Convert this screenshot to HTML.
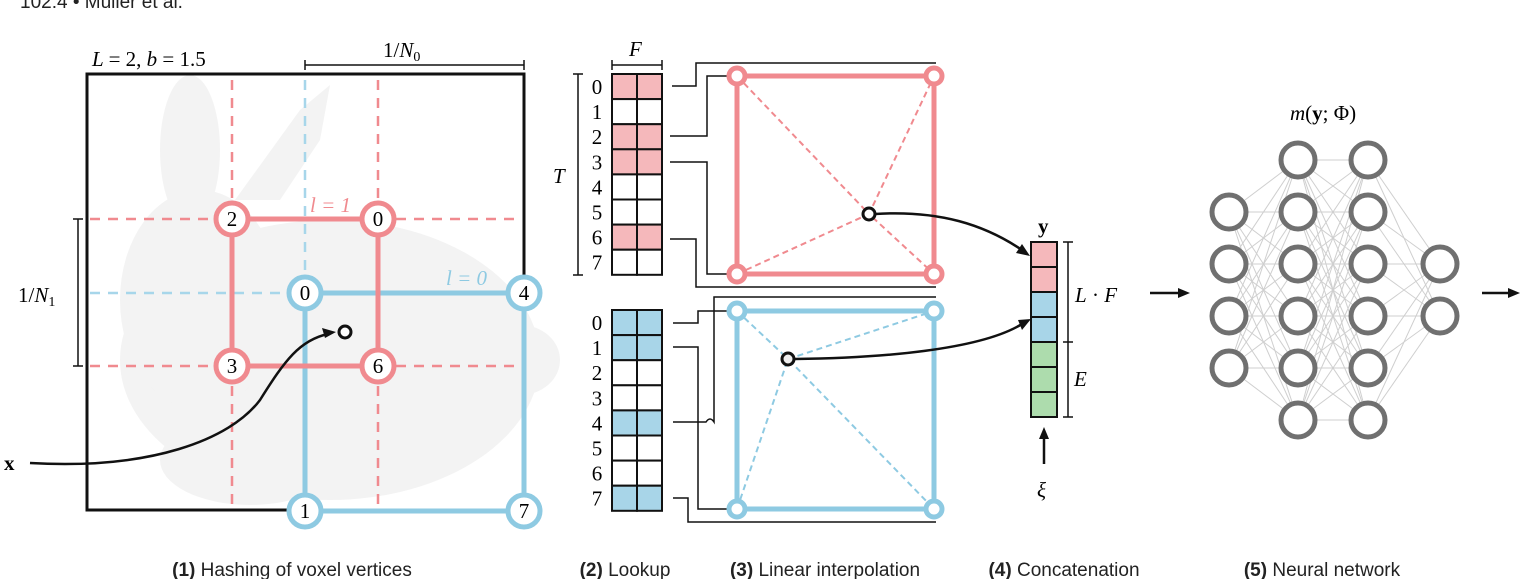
<!DOCTYPE html>
<html><head><meta charset="utf-8"><style>
body{margin:0;background:#fff;width:1524px;height:579px;overflow:hidden}
svg{display:block}
.m{font-family:"Liberation Serif",serif;font-size:21px}
.c{font-family:"Liberation Sans",sans-serif;font-size:19px;fill:#222}
</style></head><body>
<svg id="s" width="1524" height="579" viewBox="0 0 1524 579" xmlns="http://www.w3.org/2000/svg">
<text x="20" y="8" class="c" font-size="16" fill="#444">102:4  •  Müller et al.</text>
<!-- bunny -->
<g fill="#f3f3f3">
<ellipse cx="330" cy="360" rx="210" ry="140"/>
<ellipse cx="200" cy="300" rx="80" ry="110"/>
<ellipse cx="190" cy="150" rx="30" ry="75"/>
<path d="M235 200 L300 110 L330 85 L320 140 L280 200 Z"/>
<ellipse cx="520" cy="360" rx="40" ry="35"/>
<ellipse cx="250" cy="460" rx="90" ry="45"/>
</g>
<rect x="87" y="74" width="437" height="436" fill="none" stroke="#111" stroke-width="3"/>
<g stroke="#f08a8f" stroke-width="2.5" stroke-dasharray="10,8" fill="none">
<line x1="232" y1="80" x2="232" y2="505"/><line x1="378" y1="80" x2="378" y2="505"/>
<line x1="90" y1="219" x2="520" y2="219"/><line x1="90" y1="366" x2="520" y2="366"/>
</g>
<g stroke="#a7d6ea" stroke-width="2.5" stroke-dasharray="10,8" fill="none">
<line x1="305" y1="80" x2="305" y2="293"/><line x1="90" y1="293" x2="305" y2="293"/>
</g>
<rect x="305" y="293" width="219" height="218" fill="none" stroke="#8ecae2" stroke-width="5"/>
<rect x="232" y="219" width="146" height="147" fill="none" stroke="#f08a8f" stroke-width="5"/>
<g stroke-width="5" fill="#fff">
<circle cx="232" cy="219" r="16" stroke="#f08a8f"/><circle cx="378" cy="219" r="16" stroke="#f08a8f"/>
<circle cx="232" cy="366" r="16" stroke="#f08a8f"/><circle cx="378" cy="366" r="16" stroke="#f08a8f"/>
<circle cx="305" cy="293" r="16" stroke="#8ecae2"/><circle cx="524" cy="293" r="16" stroke="#8ecae2"/>
<circle cx="305" cy="511" r="16" stroke="#8ecae2"/><circle cx="524" cy="511" r="16" stroke="#8ecae2"/>
</g>
<g class="m" text-anchor="middle" font-size="19">
<text x="232" y="226">2</text><text x="378" y="226">0</text><text x="232" y="373">3</text><text x="378" y="373">6</text>
<text x="305" y="300">0</text><text x="524" y="300">4</text><text x="305" y="518">1</text><text x="524" y="518">7</text>
</g>
<text x="310" y="212" class="m" fill="#f08a8f" font-style="italic">l = 1</text>
<text x="446" y="285" class="m" fill="#8ecae2" font-style="italic">l = 0</text>
<circle cx="345" cy="332" r="6" fill="#fff" stroke="#111" stroke-width="3"/>
<path d="M30 463 C150 470 230 440 260 400 C285 360 300 340 328 334" fill="none" stroke="#111" stroke-width="2.5"/>
<path d="M336 332 L322 328 L325 338 Z" fill="#111"/>
<text x="4" y="470" class="m" font-weight="bold">x</text>
<text x="92" y="66" class="m" font-style="italic">L <tspan font-style="normal">= 2,</tspan>   b <tspan font-style="normal">= 1.5</tspan></text>
<g stroke="#111" stroke-width="1.5"><line x1="305" y1="65" x2="524" y2="65"/><line x1="305" y1="60" x2="305" y2="70"/><line x1="524" y1="60" x2="524" y2="70"/>
<line x1="78" y1="219" x2="78" y2="366"/><line x1="73" y1="219" x2="83" y2="219"/><line x1="73" y1="366" x2="83" y2="366"/></g>
<text x="383" y="57" class="m">1/<tspan font-style="italic">N</tspan><tspan font-size="14" dy="4">0</tspan></text>
<text x="18" y="302" class="m">1/<tspan font-style="italic">N</tspan><tspan font-size="14" dy="4">1</tspan></text>
<!-- lookup -->
<g id="tables"></g>
<g stroke="#111" stroke-width="1.5"><line x1="612" y1="65" x2="662" y2="65"/><line x1="612" y1="60" x2="612" y2="70"/><line x1="662" y1="60" x2="662" y2="70"/>
<line x1="578" y1="74" x2="578" y2="275"/><line x1="573" y1="74" x2="583" y2="74"/><line x1="573" y1="275" x2="583" y2="275"/></g>
<text x="629" y="56" class="m" font-style="italic">F</text>
<text x="553" y="183" class="m" font-style="italic">T</text>
<g fill="none" stroke="#111" stroke-width="1.5">
<path d="M672 86 H696 V63 H936"/><path d="M670 136 H707 V76 H727"/><path d="M670 162 H707 V274 H727"/><path d="M670 239 H696 V287 H936"/>
<path d="M673 323 H698 V311 H727"/><path d="M673 422 H706 Q710 416 714 422 V297 H936"/><path d="M673 347 H698 V509 H727"/><path d="M673 498 H688 V522 H936"/>
</g>
<!-- interp -->
<g stroke-width="2" stroke-dasharray="6,4" fill="none">
<path d="M737 76 L869 214 L934 76 M737 274 L869 214 L934 274" stroke="#f08a8f"/>
<path d="M737 311 L788 359 L934 311 M737 509 L788 359 L934 509" stroke="#8ecae2"/>
</g>
<rect x="737" y="76" width="197" height="198" fill="none" stroke="#f08a8f" stroke-width="5"/>
<rect x="737" y="311" width="197" height="198" fill="none" stroke="#8ecae2" stroke-width="5"/>
<g stroke-width="5" fill="#fff">
<circle cx="737" cy="76" r="8" stroke="#f08a8f"/><circle cx="934" cy="76" r="8" stroke="#f08a8f"/><circle cx="737" cy="274" r="8" stroke="#f08a8f"/><circle cx="934" cy="274" r="8" stroke="#f08a8f"/>
<circle cx="737" cy="311" r="8" stroke="#8ecae2"/><circle cx="934" cy="311" r="8" stroke="#8ecae2"/><circle cx="737" cy="509" r="8" stroke="#8ecae2"/><circle cx="934" cy="509" r="8" stroke="#8ecae2"/>
</g>
<path d="M875 214 C940 210 985 225 1022 250" fill="none" stroke="#111" stroke-width="2.5"/>
<path d="M1030 256 L1016 253 L1022 244 Z" fill="#111"/>
<path d="M795 359 C880 358 980 350 1022 324" fill="none" stroke="#111" stroke-width="2.5"/>
<path d="M1031 319 L1018 320 L1022 330 Z" fill="#111"/>
<circle cx="869" cy="214" r="6" fill="#fff" stroke="#111" stroke-width="3"/>
<circle cx="788" cy="359" r="6" fill="#eee" stroke="#111" stroke-width="3"/>
<!-- concat -->
<g stroke="#111" stroke-width="2">
<rect x="1031" y="242" width="26" height="25" fill="#f5b8bb"/><rect x="1031" y="267" width="26" height="25" fill="#f5b8bb"/>
<rect x="1031" y="292" width="26" height="25" fill="#a8d5e8"/><rect x="1031" y="317" width="26" height="25" fill="#a8d5e8"/>
<rect x="1031" y="342" width="26" height="25" fill="#addcad"/><rect x="1031" y="367" width="26" height="25" fill="#addcad"/><rect x="1031" y="392" width="26" height="25" fill="#addcad"/>
</g>
<g stroke="#111" stroke-width="1.5"><line x1="1068" y1="242" x2="1068" y2="417"/><line x1="1063" y1="242" x2="1073" y2="242"/><line x1="1063" y1="342" x2="1073" y2="342"/><line x1="1063" y1="417" x2="1073" y2="417"/></g>
<text x="1038" y="233" class="m" font-weight="bold">y</text>
<text x="1075" y="302" class="m"><tspan font-style="italic">L</tspan> · <tspan font-style="italic">F</tspan></text>
<text x="1074" y="386" class="m" font-style="italic">E</text>
<line x1="1044" y1="464" x2="1044" y2="436" stroke="#111" stroke-width="2.5"/><path d="M1044 427 L1039 439 L1049 439 Z" fill="#111"/>
<text x="1037" y="497" class="m" font-style="italic">ξ</text>
<line x1="1150" y1="293" x2="1180" y2="293" stroke="#111" stroke-width="2.5"/><path d="M1190 293 L1178 288 L1178 298 Z" fill="#111"/>
<line x1="1482" y1="293" x2="1510" y2="293" stroke="#111" stroke-width="2.5"/><path d="M1520 293 L1508 288 L1508 298 Z" fill="#111"/>
<g id="nn"></g>
<text x="1290" y="120" class="m"><tspan font-style="italic">m</tspan>(<tspan font-weight="bold">y</tspan>; Φ)</text>
<g class="c" text-anchor="middle">
<text x="292" y="576"><tspan font-weight="bold">(1)</tspan> Hashing of voxel vertices</text>
<text x="625" y="576"><tspan font-weight="bold">(2)</tspan> Lookup</text>
<text x="825" y="576"><tspan font-weight="bold">(3)</tspan> Linear interpolation</text>
<text x="1064" y="576"><tspan font-weight="bold">(4)</tspan> Concatenation</text>
<text x="1322" y="576"><tspan font-weight="bold">(5)</tspan> Neural network</text>
</g>
</svg>
<script>
var NS="http://www.w3.org/2000/svg";
function el(p,t,a){var e=document.createElementNS(NS,t);for(var k in a)e.setAttribute(k,a[k]);p.appendChild(e);return e;}
var tb=document.getElementById("tables");
function table(y0,colored,col){for(var i=0;i<8;i++){var y=y0+i*25.1;var f=colored.indexOf(i)>=0?col:"#fff";
el(tb,"rect",{x:612,y:y,width:25,height:25.1,fill:f,stroke:"#111","stroke-width":2});
el(tb,"rect",{x:637,y:y,width:25,height:25.1,fill:f,stroke:"#111","stroke-width":2});
var t=el(tb,"text",{x:597,y:y+20,"class":"m","text-anchor":"middle"});t.textContent=i;}}
table(74,[0,2,3,6],"#f5b8bb");table(310,[0,1,4,7],"#a8d5e8");
var nn=document.getElementById("nn");
var L=[[1229,[212,264,316,368]],[1298,[160,212,264,316,368,420]],[1368,[160,212,264,316,368,420]],[1440,[264,316]]];
for(var l=0;l<3;l++)for(var a of L[l][1])for(var b of L[l+1][1])el(nn,"line",{x1:L[l][0],y1:a,x2:L[l+1][0],y2:b,stroke:"#cfcfcf","stroke-width":1});
for(var l=0;l<4;l++)for(var a of L[l][1])el(nn,"circle",{cx:L[l][0],cy:a,r:17,fill:"#fff",stroke:"#707070","stroke-width":5});
</script>
</body></html>
